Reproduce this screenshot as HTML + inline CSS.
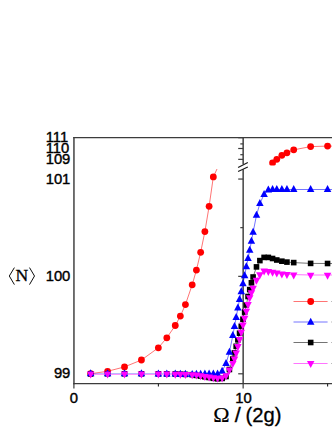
<!DOCTYPE html>
<html><head><meta charset="utf-8"><title>chart</title>
<style>
html,body{margin:0;padding:0;background:#fff;}
body{width:332px;height:430px;overflow:hidden;font-family:"Liberation Sans",sans-serif;}
svg{display:block;}
</style></head><body>
<svg width="332" height="430" viewBox="0 0 332 430">
<defs>
<clipPath id="cl"><rect x="74" y="169.0" width="169" height="215"/></clipPath>
<clipPath id="cu"><rect x="243" y="137" width="100" height="28.6"/></clipPath>
</defs>
<rect width="332" height="430" fill="#ffffff"/>
<g stroke="#3c3c3c" stroke-width="1.45" fill="none" stroke-linecap="butt">
<line x1="73.95" y1="136.9" x2="73.95" y2="384.3"/>
<line x1="73.25" y1="137.6" x2="332" y2="137.6"/>
<line x1="73.25" y1="383.6" x2="332" y2="383.6"/>
<line x1="243.15" y1="137.5" x2="243.15" y2="164.3"/>
<line x1="243.15" y1="169.3" x2="243.15" y2="383.6"/>
<line x1="238.1" y1="167.4" x2="247.8" y2="162.55" stroke="#181818" stroke-width="1.15"/>
<line x1="238.1" y1="171.5" x2="247.8" y2="166.9" stroke="#181818" stroke-width="1.15"/>
<line x1="238.2" y1="137.70" x2="243.15" y2="137.70" stroke-width="1.2"/>
<line x1="238.2" y1="148.50" x2="243.15" y2="148.50" stroke-width="1.2"/>
<line x1="238.2" y1="159.35" x2="243.15" y2="159.35" stroke-width="1.2"/>
<line x1="238.2" y1="179.05" x2="243.15" y2="179.05" stroke-width="1.2"/>
<line x1="238.2" y1="276.35" x2="243.15" y2="276.35" stroke-width="1.2"/>
<line x1="238.2" y1="373.80" x2="243.15" y2="373.80" stroke-width="1.2"/>
<line x1="240.3" y1="143.90" x2="243.15" y2="143.90" stroke-width="1.2"/>
<line x1="240.3" y1="154.70" x2="243.15" y2="154.70" stroke-width="1.2"/>
<line x1="240.3" y1="227.65" x2="243.15" y2="227.65" stroke-width="1.2"/>
<line x1="240.3" y1="325.00" x2="243.15" y2="325.00" stroke-width="1.2"/>
<line x1="73.90" y1="383.6" x2="73.90" y2="388.4" stroke-width="1.2"/>
<line x1="243.15" y1="383.6" x2="243.15" y2="388.4" stroke-width="1.2"/>
<line x1="158.40" y1="383.6" x2="158.40" y2="386.6" stroke-width="1.1" stroke="#222"/>
<line x1="327.60" y1="383.6" x2="327.60" y2="386.6" stroke-width="1.1" stroke="#222"/>
</g>
<g clip-path="url(#cl)">
<polyline fill="none" stroke="#ff0000" stroke-width="0.55" points="90.67,373.70 107.59,371.30 124.51,366.90 141.43,360.00 158.35,347.80 166.81,337.80 175.27,325.50 180.35,316.10 185.42,304.60 192.19,284.80 196.42,270.10 200.65,252.30 204.88,231.60 209.11,206.30 213.34,176.90 217.20,168.60"/>
</g>
<circle cx="90.67" cy="373.70" r="3.4" fill="#ff0000"/>
<circle cx="107.59" cy="371.30" r="3.4" fill="#ff0000"/>
<circle cx="124.51" cy="366.90" r="3.4" fill="#ff0000"/>
<circle cx="141.43" cy="360.00" r="3.4" fill="#ff0000"/>
<circle cx="158.35" cy="347.80" r="3.4" fill="#ff0000"/>
<circle cx="166.81" cy="337.80" r="3.4" fill="#ff0000"/>
<circle cx="175.27" cy="325.50" r="3.4" fill="#ff0000"/>
<circle cx="180.35" cy="316.10" r="3.4" fill="#ff0000"/>
<circle cx="185.42" cy="304.60" r="3.4" fill="#ff0000"/>
<circle cx="192.19" cy="284.80" r="3.4" fill="#ff0000"/>
<circle cx="196.42" cy="270.10" r="3.4" fill="#ff0000"/>
<circle cx="200.65" cy="252.30" r="3.4" fill="#ff0000"/>
<circle cx="204.88" cy="231.60" r="3.4" fill="#ff0000"/>
<circle cx="209.11" cy="206.30" r="3.4" fill="#ff0000"/>
<circle cx="213.34" cy="176.90" r="3.4" fill="#ff0000"/>
<g clip-path="url(#cu)">
<polyline fill="none" stroke="#ff0000" stroke-width="0.55" points="272.56,162.90 276.79,159.35 281.87,155.35 286.94,152.80 293.71,149.85 310.63,146.60 327.55,146.10 340.00,146.10"/>
<circle cx="272.56" cy="162.90" r="3.4" fill="#ff0000"/>
<circle cx="276.79" cy="159.35" r="3.4" fill="#ff0000"/>
<circle cx="281.87" cy="155.35" r="3.4" fill="#ff0000"/>
<circle cx="286.94" cy="152.80" r="3.4" fill="#ff0000"/>
<circle cx="293.71" cy="149.85" r="3.4" fill="#ff0000"/>
<circle cx="310.63" cy="146.60" r="3.4" fill="#ff0000"/>
<circle cx="327.55" cy="146.10" r="3.4" fill="#ff0000"/>
</g>
<polyline fill="none" stroke="#000000" stroke-width="0.55" points="226.03,376.50 229.41,369.50 232.80,359.00 234.49,352.80 236.18,346.30 237.87,339.80 239.57,333.20 241.26,326.30 242.95,319.20 244.64,312.10 246.33,305.00 248.03,296.50 249.72,289.60 251.41,282.80 253.10,277.00 256.49,266.90 259.87,260.60 264.10,257.40 268.33,257.40 272.56,258.50 276.79,260.00 281.87,261.20 286.94,262.10 293.71,262.60 310.63,263.40 327.55,263.50 340.00,263.60"/>
<rect x="87.87" y="371.00" width="5.6" height="5.6" fill="#000000"/>
<rect x="104.79" y="371.00" width="5.6" height="5.6" fill="#000000"/>
<rect x="121.71" y="371.00" width="5.6" height="5.6" fill="#000000"/>
<rect x="138.63" y="371.00" width="5.6" height="5.6" fill="#000000"/>
<rect x="155.55" y="371.05" width="5.6" height="5.6" fill="#000000"/>
<rect x="164.01" y="371.10" width="5.6" height="5.6" fill="#000000"/>
<rect x="172.47" y="371.20" width="5.6" height="5.6" fill="#000000"/>
<rect x="177.55" y="371.40" width="5.6" height="5.6" fill="#000000"/>
<rect x="182.62" y="371.60" width="5.6" height="5.6" fill="#000000"/>
<rect x="189.39" y="371.90" width="5.6" height="5.6" fill="#000000"/>
<rect x="193.62" y="372.60" width="5.6" height="5.6" fill="#000000"/>
<rect x="197.85" y="373.30" width="5.6" height="5.6" fill="#000000"/>
<rect x="202.08" y="374.00" width="5.6" height="5.6" fill="#000000"/>
<rect x="206.31" y="374.70" width="5.6" height="5.6" fill="#000000"/>
<rect x="210.54" y="375.50" width="5.6" height="5.6" fill="#000000"/>
<rect x="214.77" y="376.00" width="5.6" height="5.6" fill="#000000"/>
<rect x="219.34" y="375.60" width="5.6" height="5.6" fill="#000000"/>
<rect x="223.23" y="373.70" width="5.6" height="5.6" fill="#000000"/>
<rect x="226.61" y="366.70" width="5.6" height="5.6" fill="#000000"/>
<rect x="230.00" y="356.20" width="5.6" height="5.6" fill="#000000"/>
<rect x="231.69" y="350.00" width="5.6" height="5.6" fill="#000000"/>
<rect x="233.38" y="343.50" width="5.6" height="5.6" fill="#000000"/>
<rect x="235.07" y="337.00" width="5.6" height="5.6" fill="#000000"/>
<rect x="236.77" y="330.40" width="5.6" height="5.6" fill="#000000"/>
<rect x="238.46" y="323.50" width="5.6" height="5.6" fill="#000000"/>
<rect x="240.15" y="316.40" width="5.6" height="5.6" fill="#000000"/>
<rect x="241.84" y="309.30" width="5.6" height="5.6" fill="#000000"/>
<rect x="243.53" y="302.20" width="5.6" height="5.6" fill="#000000"/>
<rect x="245.23" y="293.70" width="5.6" height="5.6" fill="#000000"/>
<rect x="246.92" y="286.80" width="5.6" height="5.6" fill="#000000"/>
<rect x="248.61" y="280.00" width="5.6" height="5.6" fill="#000000"/>
<rect x="250.30" y="274.20" width="5.6" height="5.6" fill="#000000"/>
<rect x="253.69" y="264.10" width="5.6" height="5.6" fill="#000000"/>
<rect x="257.07" y="257.80" width="5.6" height="5.6" fill="#000000"/>
<rect x="261.30" y="254.60" width="5.6" height="5.6" fill="#000000"/>
<rect x="265.53" y="254.60" width="5.6" height="5.6" fill="#000000"/>
<rect x="269.76" y="255.70" width="5.6" height="5.6" fill="#000000"/>
<rect x="273.99" y="257.20" width="5.6" height="5.6" fill="#000000"/>
<rect x="279.07" y="258.40" width="5.6" height="5.6" fill="#000000"/>
<rect x="284.14" y="259.30" width="5.6" height="5.6" fill="#000000"/>
<rect x="290.91" y="259.80" width="5.6" height="5.6" fill="#000000"/>
<rect x="307.83" y="260.60" width="5.6" height="5.6" fill="#000000"/>
<rect x="324.75" y="260.70" width="5.6" height="5.6" fill="#000000"/>
<line x1="90.67" y1="373.5" x2="175.27" y2="373.5" stroke="#0000ff" stroke-width="0.27"/>
<polyline fill="none" stroke="#0000ff" stroke-width="0.55" points="175.27,374.10 180.35,374.20 185.42,374.30 192.19,374.40 196.42,374.30 200.65,374.20 204.88,374.10 209.11,374.00 213.34,374.00 217.57,373.90 222.14,371.30 226.03,363.50 229.41,352.20 232.80,335.60 234.49,326.40 236.18,317.50 237.87,308.00 239.57,299.40 241.26,291.70 242.95,283.80 244.64,275.70 246.33,266.80 248.03,258.60 249.72,250.30 251.41,241.30 253.10,232.30 256.49,215.30 259.87,203.60 264.10,194.40 268.33,190.00 272.56,189.60 276.79,189.50 281.87,189.50 286.94,189.50 293.71,189.50 310.63,189.50 327.55,189.50 340.00,189.50"/>
<path d="M90.67 369.35 L94.42 376.35 L86.92 376.35 Z" fill="#0000ff"/>
<path d="M107.59 369.35 L111.34 376.35 L103.84 376.35 Z" fill="#0000ff"/>
<path d="M124.51 369.35 L128.26 376.35 L120.76 376.35 Z" fill="#0000ff"/>
<path d="M141.43 369.35 L145.18 376.35 L137.68 376.35 Z" fill="#0000ff"/>
<path d="M158.35 369.40 L162.10 376.40 L154.60 376.40 Z" fill="#0000ff"/>
<path d="M166.81 369.50 L170.56 376.50 L163.06 376.50 Z" fill="#0000ff"/>
<path d="M175.27 369.60 L179.02 376.60 L171.52 376.60 Z" fill="#0000ff"/>
<path d="M180.35 369.70 L184.10 376.70 L176.60 376.70 Z" fill="#0000ff"/>
<path d="M185.42 369.80 L189.17 376.80 L181.67 376.80 Z" fill="#0000ff"/>
<path d="M192.19 369.90 L195.94 376.90 L188.44 376.90 Z" fill="#0000ff"/>
<path d="M196.42 369.80 L200.17 376.80 L192.67 376.80 Z" fill="#0000ff"/>
<path d="M200.65 369.70 L204.40 376.70 L196.90 376.70 Z" fill="#0000ff"/>
<path d="M204.88 369.60 L208.63 376.60 L201.13 376.60 Z" fill="#0000ff"/>
<path d="M209.11 369.50 L212.86 376.50 L205.36 376.50 Z" fill="#0000ff"/>
<path d="M213.34 369.50 L217.09 376.50 L209.59 376.50 Z" fill="#0000ff"/>
<path d="M217.57 369.40 L221.32 376.40 L213.82 376.40 Z" fill="#0000ff"/>
<path d="M222.14 366.80 L225.89 373.80 L218.39 373.80 Z" fill="#0000ff"/>
<path d="M226.03 359.00 L229.78 366.00 L222.28 366.00 Z" fill="#0000ff"/>
<path d="M229.41 347.70 L233.16 354.70 L225.66 354.70 Z" fill="#0000ff"/>
<path d="M232.80 331.10 L236.55 338.10 L229.05 338.10 Z" fill="#0000ff"/>
<path d="M234.49 321.90 L238.24 328.90 L230.74 328.90 Z" fill="#0000ff"/>
<path d="M236.18 313.00 L239.93 320.00 L232.43 320.00 Z" fill="#0000ff"/>
<path d="M237.87 303.50 L241.62 310.50 L234.12 310.50 Z" fill="#0000ff"/>
<path d="M239.57 294.90 L243.32 301.90 L235.82 301.90 Z" fill="#0000ff"/>
<path d="M241.26 287.20 L245.01 294.20 L237.51 294.20 Z" fill="#0000ff"/>
<path d="M242.95 279.30 L246.70 286.30 L239.20 286.30 Z" fill="#0000ff"/>
<path d="M244.64 271.20 L248.39 278.20 L240.89 278.20 Z" fill="#0000ff"/>
<path d="M246.33 262.30 L250.08 269.30 L242.58 269.30 Z" fill="#0000ff"/>
<path d="M248.03 254.10 L251.78 261.10 L244.28 261.10 Z" fill="#0000ff"/>
<path d="M249.72 245.80 L253.47 252.80 L245.97 252.80 Z" fill="#0000ff"/>
<path d="M251.41 236.80 L255.16 243.80 L247.66 243.80 Z" fill="#0000ff"/>
<path d="M253.10 227.80 L256.85 234.80 L249.35 234.80 Z" fill="#0000ff"/>
<path d="M256.49 210.80 L260.24 217.80 L252.74 217.80 Z" fill="#0000ff"/>
<path d="M259.87 199.10 L263.62 206.10 L256.12 206.10 Z" fill="#0000ff"/>
<path d="M264.10 189.90 L267.85 196.90 L260.35 196.90 Z" fill="#0000ff"/>
<path d="M268.33 185.50 L272.08 192.50 L264.58 192.50 Z" fill="#0000ff"/>
<path d="M272.56 185.10 L276.31 192.10 L268.81 192.10 Z" fill="#0000ff"/>
<path d="M276.79 185.00 L280.54 192.00 L273.04 192.00 Z" fill="#0000ff"/>
<path d="M281.87 185.00 L285.62 192.00 L278.12 192.00 Z" fill="#0000ff"/>
<path d="M286.94 185.00 L290.69 192.00 L283.19 192.00 Z" fill="#0000ff"/>
<path d="M293.71 185.00 L297.46 192.00 L289.96 192.00 Z" fill="#0000ff"/>
<path d="M310.63 185.00 L314.38 192.00 L306.88 192.00 Z" fill="#0000ff"/>
<path d="M327.55 185.00 L331.30 192.00 L323.80 192.00 Z" fill="#0000ff"/>
<line x1="90.67" y1="374.45" x2="175.27" y2="374.45" stroke="#ff00ff" stroke-width="0.45"/>
<polyline fill="none" stroke="#ff00ff" stroke-width="0.55" points="175.27,373.85 180.35,373.90 185.42,374.10 192.19,374.40 196.42,374.80 200.65,375.40 204.88,376.10 209.11,376.70 213.34,377.40 217.57,377.90 222.14,377.60 226.03,375.50 229.41,369.70 232.80,363.20 234.49,358.70 236.18,352.70 237.87,346.20 239.57,339.20 241.26,332.00 242.95,324.70 244.64,317.90 246.33,311.00 248.03,304.20 249.72,297.40 251.41,292.50 253.10,288.00 256.49,279.90 259.87,274.40 264.10,270.70 268.33,271.10 272.56,272.00 276.79,272.60 281.87,273.60 286.94,274.10 293.71,274.60 310.63,275.00 327.55,275.00 340.00,275.00"/>
<path d="M90.67 378.60 L94.42 371.60 L86.92 371.60 Z" fill="#ff00ff"/>
<path d="M107.59 378.60 L111.34 371.60 L103.84 371.60 Z" fill="#ff00ff"/>
<path d="M124.51 378.60 L128.26 371.60 L120.76 371.60 Z" fill="#ff00ff"/>
<path d="M141.43 378.60 L145.18 371.60 L137.68 371.60 Z" fill="#ff00ff"/>
<path d="M158.35 378.60 L162.10 371.60 L154.60 371.60 Z" fill="#ff00ff"/>
<path d="M166.81 378.60 L170.56 371.60 L163.06 371.60 Z" fill="#ff00ff"/>
<path d="M175.27 378.65 L179.02 371.65 L171.52 371.65 Z" fill="#ff00ff"/>
<path d="M180.35 378.70 L184.10 371.70 L176.60 371.70 Z" fill="#ff00ff"/>
<path d="M185.42 378.90 L189.17 371.90 L181.67 371.90 Z" fill="#ff00ff"/>
<path d="M192.19 379.20 L195.94 372.20 L188.44 372.20 Z" fill="#ff00ff"/>
<path d="M196.42 379.60 L200.17 372.60 L192.67 372.60 Z" fill="#ff00ff"/>
<path d="M200.65 380.20 L204.40 373.20 L196.90 373.20 Z" fill="#ff00ff"/>
<path d="M204.88 380.90 L208.63 373.90 L201.13 373.90 Z" fill="#ff00ff"/>
<path d="M209.11 381.50 L212.86 374.50 L205.36 374.50 Z" fill="#ff00ff"/>
<path d="M213.34 382.20 L217.09 375.20 L209.59 375.20 Z" fill="#ff00ff"/>
<path d="M217.57 382.70 L221.32 375.70 L213.82 375.70 Z" fill="#ff00ff"/>
<path d="M222.14 382.40 L225.89 375.40 L218.39 375.40 Z" fill="#ff00ff"/>
<path d="M226.03 380.30 L229.78 373.30 L222.28 373.30 Z" fill="#ff00ff"/>
<path d="M229.41 374.50 L233.16 367.50 L225.66 367.50 Z" fill="#ff00ff"/>
<path d="M232.80 368.00 L236.55 361.00 L229.05 361.00 Z" fill="#ff00ff"/>
<path d="M234.49 363.50 L238.24 356.50 L230.74 356.50 Z" fill="#ff00ff"/>
<path d="M236.18 357.50 L239.93 350.50 L232.43 350.50 Z" fill="#ff00ff"/>
<path d="M237.87 351.00 L241.62 344.00 L234.12 344.00 Z" fill="#ff00ff"/>
<path d="M239.57 344.00 L243.32 337.00 L235.82 337.00 Z" fill="#ff00ff"/>
<path d="M241.26 336.80 L245.01 329.80 L237.51 329.80 Z" fill="#ff00ff"/>
<path d="M242.95 329.50 L246.70 322.50 L239.20 322.50 Z" fill="#ff00ff"/>
<path d="M244.64 322.70 L248.39 315.70 L240.89 315.70 Z" fill="#ff00ff"/>
<path d="M246.33 315.80 L250.08 308.80 L242.58 308.80 Z" fill="#ff00ff"/>
<path d="M248.03 309.00 L251.78 302.00 L244.28 302.00 Z" fill="#ff00ff"/>
<path d="M249.72 302.20 L253.47 295.20 L245.97 295.20 Z" fill="#ff00ff"/>
<path d="M251.41 297.30 L255.16 290.30 L247.66 290.30 Z" fill="#ff00ff"/>
<path d="M253.10 292.80 L256.85 285.80 L249.35 285.80 Z" fill="#ff00ff"/>
<path d="M256.49 284.70 L260.24 277.70 L252.74 277.70 Z" fill="#ff00ff"/>
<path d="M259.87 279.20 L263.62 272.20 L256.12 272.20 Z" fill="#ff00ff"/>
<path d="M264.10 275.50 L267.85 268.50 L260.35 268.50 Z" fill="#ff00ff"/>
<path d="M268.33 275.90 L272.08 268.90 L264.58 268.90 Z" fill="#ff00ff"/>
<path d="M272.56 276.80 L276.31 269.80 L268.81 269.80 Z" fill="#ff00ff"/>
<path d="M276.79 277.40 L280.54 270.40 L273.04 270.40 Z" fill="#ff00ff"/>
<path d="M281.87 278.40 L285.62 271.40 L278.12 271.40 Z" fill="#ff00ff"/>
<path d="M286.94 278.90 L290.69 271.90 L283.19 271.90 Z" fill="#ff00ff"/>
<path d="M293.71 279.40 L297.46 272.40 L289.96 272.40 Z" fill="#ff00ff"/>
<path d="M310.63 279.80 L314.38 272.80 L306.88 272.80 Z" fill="#ff00ff"/>
<path d="M327.55 279.80 L331.30 272.80 L323.80 272.80 Z" fill="#ff00ff"/>
<line x1="293.5" y1="301.50" x2="327.6" y2="301.50" stroke="#ff0000" stroke-width="0.55"/>
<line x1="293.5" y1="322.00" x2="327.6" y2="322.00" stroke="#0000ff" stroke-width="0.55"/>
<line x1="293.5" y1="342.50" x2="327.6" y2="342.50" stroke="#000000" stroke-width="0.55"/>
<line x1="293.5" y1="363.50" x2="327.6" y2="363.50" stroke="#ff00ff" stroke-width="0.55"/>
<circle cx="310.70" cy="301.50" r="3.4" fill="#ff0000"/>
<path d="M310.70 317.80 L314.45 324.80 L306.95 324.80 Z" fill="#0000ff"/>
<rect x="307.90" y="339.70" width="5.6" height="5.6" fill="#000000"/>
<path d="M310.70 368.10 L314.45 361.10 L306.95 361.10 Z" fill="#ff00ff"/>
<rect x="331" y="301.00" width="1" height="1" fill="#bbbbbb"/>
<rect x="331" y="321.50" width="1" height="1" fill="#bbbbbb"/>
<rect x="331" y="342.00" width="1" height="1" fill="#bbbbbb"/>
<rect x="331" y="363.00" width="1" height="1" fill="#bbbbbb"/>
<g fill="#000" stroke="#000" stroke-width="0.4" font-family="'Liberation Sans', sans-serif" font-size="14.8">
<text x="45.657" y="142">111</text>
<text x="45.657" y="153">110</text>
<text x="45.657" y="163.85">109</text>
<text x="45.657" y="183.5">101</text>
<text x="45.657" y="280.85">100</text>
<text x="53.888" y="378.3">99</text>
<text x="69.684" y="403.4">0</text>
<text x="235.169" y="403.4">10</text>
</g>
<text x="15.6" y="281.2" font-family="'Liberation Serif', serif" font-size="17.6" fill="#000" stroke="#000" stroke-width="0.3">N</text>
<polyline fill="none" stroke="#000" stroke-width="0.95" points="14.4,267.6 9.3,276.0 14.4,284.6"/>
<polyline fill="none" stroke="#000" stroke-width="0.95" points="29.5,267.6 34.5,276.0 29.5,284.6"/>
<text transform="translate(213.3 422.1) scale(1.0993 1)" x="0" y="0" font-family="'Liberation Serif', serif" font-size="20" fill="#000" stroke="#000" stroke-width="0.15">Ω</text>
<text transform="translate(234.7 422.2) scale(1.08 1)" x="0" y="0" font-family="'Liberation Sans', sans-serif" font-size="20.2" fill="#000" stroke="#000" stroke-width="0.3">/</text>
<text x="245.6" y="422.2" font-family="'Liberation Sans', sans-serif" font-size="20.2" fill="#000" stroke="#000" stroke-width="0.3">(2g)</text>
</svg>
</body></html>
